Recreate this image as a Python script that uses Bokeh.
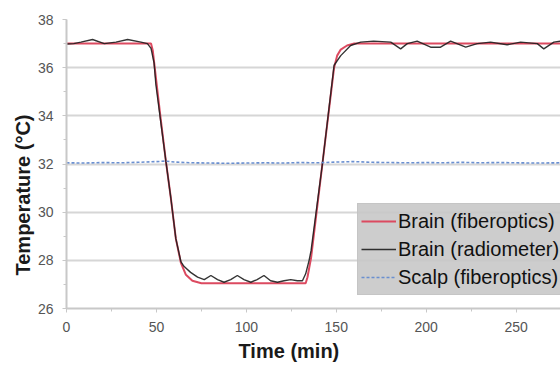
from bokeh.plotting import figure
from bokeh.models import Range1d, SingleIntervalTicker, Legend, LegendItem, Title
from bokeh.embed import file_html
from bokeh.resources import INLINE

# Brain (fiberoptics) - smooth trace
t_fiber = [0, 47, 48, 50, 52.5, 55.3, 58, 60.8, 63.6, 66.4, 70, 75, 133, 134, 135, 136,
           142.3, 148.8, 150.5, 152.5, 156, 160, 275]
v_fiber = [37.0, 37.0, 36.7, 35.4, 33.8, 32.1, 30.6, 28.9, 27.9, 27.4, 27.15, 27.05, 27.05,
           27.3, 27.7, 28.1, 32.0, 36.0, 36.5, 36.75, 36.92, 37.0, 37.0]

# Brain (radiometer) - noisy trace
t_radio = [0, 4, 8, 14.5, 21, 27.5, 34, 41.4, 45, 47, 48.7, 49.7, 52.5, 55.3, 58, 60.8, 63.6,
           65.3, 69, 72.9, 76.6, 80.3, 84, 87.6, 91.3, 95, 98.7, 102.5, 106, 109.8, 113.5, 117.3,
           121, 124.7, 128.4, 131.2, 133, 134.9, 136, 142.3, 148.8, 152.5, 158, 163.6, 170.8,
           180.3, 185.8, 189.5, 195, 202.5, 208, 213.6, 222, 228.4, 235.8, 245, 252.5, 261.8,
           265.4, 271, 275]
v_radio = [36.98, 37.0, 37.06, 37.17, 37.0, 37.06, 37.17, 37.06, 37.0, 36.8, 36.2, 35.3, 33.7,
           32.1, 30.6, 28.9, 27.95, 27.75, 27.5, 27.3, 27.2, 27.37, 27.2, 27.09, 27.2, 27.37,
           27.2, 27.09, 27.2, 27.37, 27.15, 27.09, 27.15, 27.2, 27.15, 27.15, 27.44, 28.0, 28.4,
           32.0, 36.1, 36.5, 36.92, 37.06, 37.1, 37.06, 36.78, 37.0, 37.1, 36.85, 36.85, 37.1,
           36.85, 37.0, 37.06, 36.95, 37.06, 37.0, 36.78, 37.06, 37.1]

# Scalp (fiberoptics)
t_scalp = [0, 10, 20, 30, 40, 50, 55, 60, 70, 80, 90, 100, 110, 120, 130, 140, 150, 160, 170,
           180, 190, 200, 210, 220, 230, 240, 250, 260, 275]
v_scalp = [32.05, 32.04, 32.06, 32.05, 32.07, 32.1, 32.12, 32.08, 32.05, 32.04, 32.03, 32.04,
           32.05, 32.04, 32.06, 32.05, 32.08, 32.1, 32.07, 32.06, 32.05, 32.06, 32.05, 32.07,
           32.05, 32.06, 32.05, 32.04, 32.05]

labels = ["Brain (fiberoptics)", "Brain (radiometer)", "Scalp (fiberoptics)"]
x_title = "Time (min)"
y_title = "Temperature (°C)"

p = figure(width=560, height=368, output_backend="svg", toolbar_location=None,
           x_range=Range1d(0, 274.7), y_range=Range1d(26, 38),
           min_border_left=66, min_border_right=0, min_border_top=19, min_border_bottom=60)
p.outline_line_color = None
p.background_fill_color = "white"

p.xgrid.grid_line_color = None
p.ygrid.grid_line_color = "#d6d6d6"
p.ygrid.grid_line_width = 2

p.xaxis.ticker = SingleIntervalTicker(interval=50, num_minor_ticks=2)
p.yaxis.ticker = SingleIntervalTicker(interval=2, num_minor_ticks=2)

for ax in (p.xaxis, p.yaxis):
    ax.axis_line_color = "#c8c8c8"
    ax.axis_line_width = 2
    ax.major_tick_line_color = "#c8c8c8"
    ax.minor_tick_line_color = "#c8c8c8"
    ax.major_tick_out = 4
    ax.major_tick_in = 0
    ax.minor_tick_out = 3
    ax.minor_tick_in = 0
    ax.major_label_text_font = "Liberation Sans"
    ax.major_label_text_font_size = "14px"
    ax.major_label_text_color = "#555555"
    ax.major_label_standoff = 9

r1 = p.line(t_fiber, v_fiber, line_color="#dc4a60", line_width=2)
r2 = p.line(t_radio, v_radio, line_color="#1e1e1e", line_width=1.4, line_alpha=0.9)
r3 = p.line(t_scalp, v_scalp, line_color="#6a8fd0", line_width=1.6, line_dash="3 2")

# axis titles as side titles (offset along the axis from the frame start)
p.add_layout(Title(text=y_title, align="left", offset=33, standoff=2,
                   text_font="Liberation Sans", text_font_size="20px",
                   text_font_style="bold", text_color="#1a1a1a"), "left")
p.add_layout(Title(text=x_title, align="left", offset=172, standoff=7,
                   text_font="Liberation Sans", text_font_size="20px",
                   text_font_style="bold", text_color="#1a1a1a"), "below")

legend = Legend(items=[LegendItem(label=labels[0], renderers=[r1]),
                       LegendItem(label=labels[1], renderers=[r2]),
                       LegendItem(label=labels[2], renderers=[r3])],
                location=(291, 13), orientation="vertical",
                background_fill_color="#c8c8c8", background_fill_alpha=0.9,
                border_line_color="#bdbdbd", border_line_width=1,
                label_text_font="Liberation Sans", label_text_font_size="20px",
                label_text_color="#111111",
                glyph_width=35, glyph_height=28, label_height=28, label_standoff=2,
                padding=3, spacing=0, margin=0)
p.add_layout(legend, "center")

open("out.html", "w").write(file_html(p, INLINE))
